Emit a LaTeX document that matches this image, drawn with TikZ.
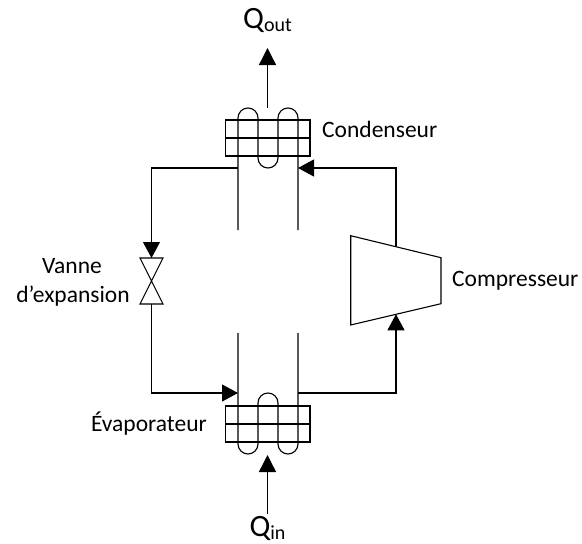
\documentclass[tikz,border=0pt]{standalone}
\usepackage{fontspec}
\setmainfont{Carlito}
\usetikzlibrary{arrows.meta}
\newcommand{\lowsub}[1]{\raisebox{-3.5pt}{\fontsize{20}{22}\selectfont #1}}
\tikzset{
  x=1pt,y=-1pt,
  shape line/.style={draw=black,line width=1.1pt,line join=miter},
  pipe/.style={draw=black,line width=1.1pt},
  flow/.style={pipe,-{Triangle[length=16pt,width=17pt]}},
  heat/.style={draw=black,line width=1.4pt,-{Triangle[length=17pt,width=17pt]}},
  lab/.style={font=\fontsize{23.5}{28}\selectfont,inner sep=0pt,text=black},
  qlab/.style={font=\fontsize{31}{36}\selectfont,inner sep=0pt,text=black},
}
\begin{document}
\begin{tikzpicture}
\useasboundingbox (0,0) rectangle (582,544);
% named points
\coordinate (cl) at (238,168); \coordinate (cr) at (298,168);
\coordinate (el) at (238,393); \coordinate (er) at (298,393);
\coordinate (vt) at (151.5,258); \coordinate (vb) at (151.5,304);
\coordinate (kt) at (396,246.7); \coordinate (kb) at (396,314.3);
\coordinate (ctop) at (267.5,108); \coordinate (qo) at (267.5,48);
\coordinate (etop) at (267.5,514); \coordinate (qi) at (267.5,455);
% condenser
\draw[shape line] (225.5,120) rectangle (310,156);
\draw[shape line] (225.5,138) -- (310,138);
\draw[shape line] (238,230) -- (238,118) arc[start angle=180,end angle=0,x radius=10,y radius=-10]
  -- (258,158) arc[start angle=180,end angle=360,x radius=10,y radius=-10]
  -- (278,118) arc[start angle=180,end angle=0,x radius=10,y radius=-10] -- (298,230);
% evaporator
\draw[shape line] (225.5,406) rectangle (310,442);
\draw[shape line] (225.5,424) -- (310,424);
\draw[shape line] (238,333) -- (238,444) arc[start angle=180,end angle=360,x radius=10,y radius=-10]
  -- (258,403) arc[start angle=180,end angle=0,x radius=10,y radius=-10]
  -- (278,444) arc[start angle=180,end angle=360,x radius=10,y radius=-10] -- (298,333);
% valve
\draw[shape line] (140,258) -- (163,258) -- (140,304) -- (163,304) -- cycle;
% compressor
\draw[shape line] (350.7,235.7) -- (441,257.7) -- (441,303.7) -- (350.7,325) -- cycle;
% connectors
\draw[flow] (cl) -- (151.5,168) -- (vt);
\draw[flow] (vb) -- (151.5,393) -- (el);
\draw[flow] (er) -- (396,393) -- (kb);
\draw[flow] (kt) -- (396,168) -- (cr);
\draw[heat] (ctop) -- (qo);
\draw[heat] (etop) -- (qi);
% labels
\node[qlab,anchor=base] (qout) at (267.5,28) {Q\lowsub{out}};
\node[qlab,anchor=base] (qin) at (267.5,536) {Q\lowsub{in}};
\node[lab,anchor=base west] (cond) at (322,137.7) {Condenseur};
\node[lab,anchor=base west] (comp) at (452,286.7) {Compresseur};
\node[lab,anchor=base east] (evap) at (207,431.7) {Évaporateur};
\node[lab,anchor=base] (v1) at (72,273.3) {Vanne};
\node[lab,anchor=base] (v2) at (73,302.7) {d’expansion};
\end{tikzpicture}
\end{document}
